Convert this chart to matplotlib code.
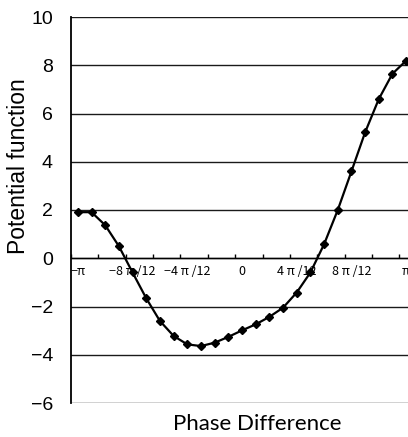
import numpy as np
import matplotlib
matplotlib.use('Agg')
import matplotlib.pyplot as plt

plt.rcParams['font.family'] = ['Liberation Sans', 'DejaVu Sans']

# --- DATA ---
step_count = np.arange(25)                     # phase steps of pi/12 from -pi to pi
phase = -np.pi + step_count * np.pi / 12
potential = [1.91, 1.91, 1.37, 0.50, -0.59, -1.66, -2.60, -3.22, -3.57, -3.64,
             -3.50, -3.26, -2.99, -2.74, -2.43, -2.05, -1.42, -0.59, 0.58, 2.00,
             3.60, 5.22, 6.60, 7.65, 8.19]
xtick_labels = ['−π', '−8 π /12', '−4 π /12', '0', '4 π /12', '8 π /12', 'π']
ytick_values = [-6, -4, -2, 0, 2, 4, 6, 8, 10]

W, H = 408, 437
fig = plt.figure(figsize=(W / 100, H / 100), dpi=100)
half = np.pi / 24
# plot area runs a little past the right edge, like the source
ax = fig.add_axes([71 / W, 34 / H, 342 / W, 386 / H])

ax.set_xlim(-np.pi - half, np.pi + half)
ax.set_ylim(-6, 10)

# horizontal gridlines, including top and bottom
ax.set_yticks(ytick_values)
ax.yaxis.grid(True, color='#1a1a1a', linewidth=1.0)
ax.set_axisbelow(True)
ax.tick_params(axis='y', length=0, pad=13, labelsize=14)

for s in ['top', 'right']:
    ax.spines[s].set_visible(False)
ax.spines['left'].set_linewidth(1.3)
ax.spines['bottom'].set_position(('data', 0))
ax.spines['bottom'].set_linewidth(1.0)

# tick marks every two categories, labels every four
tick_marks = -np.pi - half + np.arange(13) * 2 * np.pi / 12
ax.set_xticks(tick_marks)
ax.set_xticklabels([])
ax.tick_params(axis='x', which='major', direction='in', length=3, width=1.0)
label_pos = phase[::4]
ax.set_xticks(label_pos, minor=True)
ax.set_xticklabels(xtick_labels, minor=True,
                   family=['Noto Sans CJK JP', 'DejaVu Sans'], fontsize=9)
ax.tick_params(axis='x', which='minor', length=0, pad=5)

ax.plot(phase, potential, color='black', linewidth=1.6, marker='D',
        markersize=4, markerfacecolor='black', markeredgecolor='black',
        clip_on=False, zorder=3)

fig.text(19 / W, 1 - 166 / H, 'Potential function', rotation=90,
         ha='center', va='center', fontsize=16.5)
fig.text(257 / W, 1 - 424 / H, 'Phase Difference', ha='center', va='center',
         fontsize=16, family=['Lato', 'DejaVu Sans'])

fig.savefig('out.png', dpi=100)
